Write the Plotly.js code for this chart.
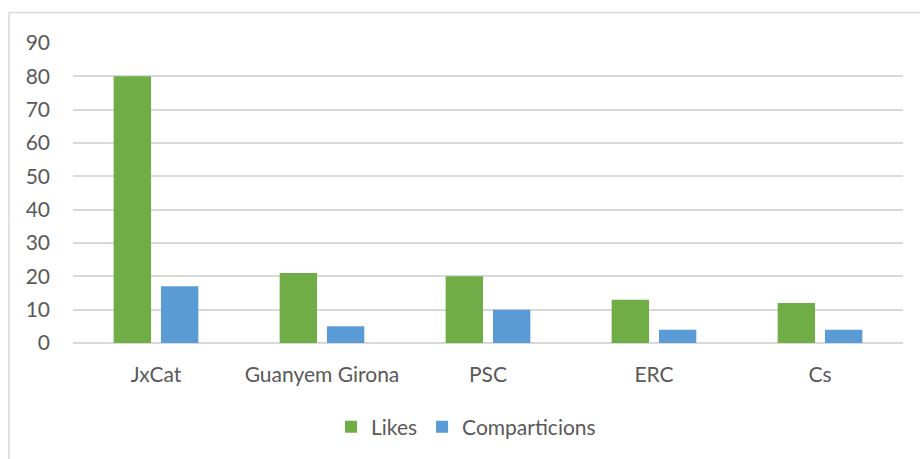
<!DOCTYPE html>
<html>
<head>
<meta charset="utf-8">
<script src="https://cdn.plot.ly/plotly-3.0.1.min.js"></script>
<style>html,body{margin:0;padding:0;background:#fff;}#chart{width:920px;height:459px;}</style>
</head>
<body>
<div id="chart"></div>
<script>
const categories = ["JxCat", "Guanyem Girona", "PSC", "ERC", "Cs"];
const likes = [80, 21, 20, 13, 12];
const comparticions = [17, 5, 10, 4, 4];
const yTicks = [0, 10, 20, 30, 40, 50, 60, 70, 80, 90];

const W = 920, H = 459, L = 73, R = 17, T = 43, B = 116;
const pw = W - L - R, ph = H - T - B;
const px = x => (x - L) / pw;
const py = y => 1 - (y - T) / ph;

const font = {family: "Lato, 'Open Sans', sans-serif", size: 21, color: "#595959"};

const data = [
  {type: "bar", name: "Likes", x: categories, y: likes, marker: {color: "#70ad47"}},
  {type: "bar", name: "Comparticions", x: categories, y: comparticions, marker: {color: "#5b9bd5"}}
];

const layout = {
  width: W, height: H,
  margin: {l: L, r: R, t: T, b: B},
  paper_bgcolor: "#fff", plot_bgcolor: "#fff",
  font: font,
  barmode: "group", bargap: 0.43, bargroupgap: 0.21,
  showlegend: true,
  legend: {orientation: "h", x: px(466), xanchor: "center", y: py(427), yanchor: "middle",
           font: font, itemwidth: 30, traceorder: "normal"},
  xaxis: {type: "category", showgrid: false, zeroline: false, showline: false, ticks: "",
          ticklabelstandoff: 17, tickfont: font},
  yaxis: {range: [0, 90], tickvals: yTicks, ticktext: yTicks.map(String), showgrid: true,
          gridcolor: "#d9d9d9", gridwidth: 2, zeroline: true, zerolinecolor: "#d9d9d9", zerolinewidth: 2,
          showline: false, ticks: "", ticklabelstandoff: 22, tickfont: font, fixedrange: true},
  shapes: [
    {type: "line", xref: "paper", yref: "paper", x0: px(9), x1: px(920), y0: py(12.5), y1: py(12.5),
     line: {color: "#d9d9d9", width: 1.5}},
    {type: "line", xref: "paper", yref: "paper", x0: px(9), x1: px(9), y0: py(12.5), y1: py(459),
     line: {color: "#d9d9d9", width: 1.5}}
  ]
};

Plotly.newPlot("chart", data, layout, {displayModeBar: false, staticPlot: true});
</script>
</body>
</html>
